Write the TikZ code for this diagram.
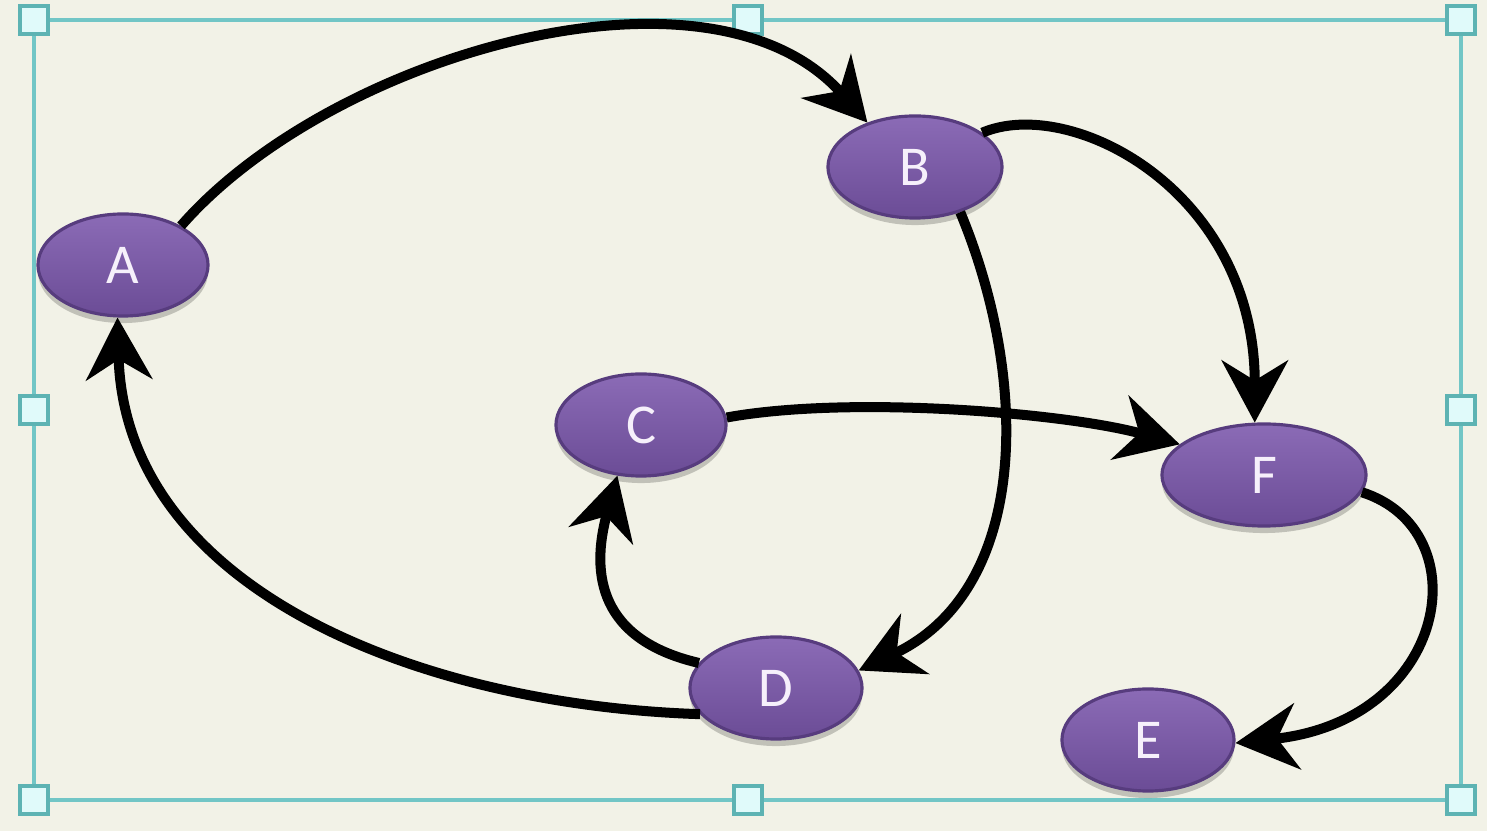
\documentclass[tikz,border=0pt]{standalone}
\usepackage{fontspec}
\setmainfont{Carlito}
\usetikzlibrary{arrows.meta,shapes.geometric,shadows}

\definecolor{paper}{HTML}{F2F2E7}
\definecolor{nodetop}{HTML}{8B6BB6}
\definecolor{nodebot}{HTML}{6B4C96}
\definecolor{nodeedge}{HTML}{573C7E}
\definecolor{labelcol}{HTML}{F6F0FB}
\definecolor{frameline}{HTML}{72C6C6}
\definecolor{handlefill}{HTML}{E0FAFA}
\definecolor{handleedge}{HTML}{5DB3B3}

\tikzset{
  vertex/.style={ellipse, draw=nodeedge, line width=0.9pt,
    top color=nodetop, bottom color=nodebot, inner sep=0pt,
    minimum height=1.02cm, text=labelcol,
    font=\fontsize{16}{19}\selectfont,
    drop shadow={shadow xshift=0pt, shadow yshift=-2pt, opacity=0.2, fill=black}},
  link/.style={line width=0.1cm, draw=black,
    -{Stealth[length=0.62cm, width=0.66cm, inset=0.2cm]}},
  handle/.style={rectangle, draw=handleedge, fill=handlefill, line width=1.4pt,
    minimum size=0.28cm, inner sep=0pt}
}

\begin{document}
\begin{tikzpicture}[x=0.01cm, y=-0.01cm]
  % page
  \fill[paper] (0,0) rectangle (1487,831);
  \useasboundingbox (0,0) rectangle (1487,831);

  % selection frame with its sizing handles
  \draw[frameline, line width=1.3pt] (34,20) rectangle (1461,800);
  \foreach \hx/\hy/\hn in {34/20/h1, 748/20/h2, 1461/20/h3, 34/410/h4,
                            1461/410/h5, 34/800/h6, 748/800/h7, 1461/800/h8}
    \node[handle] (\hn) at (\hx,\hy) {};

  % vertices
  \node[vertex, minimum width=1.70cm] (A) at (123,265) {A};
  \node[vertex, minimum width=1.74cm] (B) at (915,167) {B};
  \node[vertex, minimum width=1.70cm] (C) at (641,425) {C};
  \node[vertex, minimum width=1.72cm] (D) at (776,688) {D};
  \node[vertex, minimum width=2.04cm] (F) at (1264,475) {F};
  \node[vertex, minimum width=1.72cm] (E) at (1148,740) {E};

  % directed edges
  \draw[link] (A.34) .. controls (330,55) and (710,-55) .. (B.137);
  \draw[link] (B.27) .. controls (1070,95) and (1255,190) .. (F.100);
  \draw[link] (B.-45) .. controls (1030,380) and (1030,590) .. (D.12);
  \draw[link] (C.5) .. controls (850,395) and (1067,413) .. (F.160);
  \draw[link] (D.162) .. controls (600,640) and (590,575) .. (C.-115);
  \draw[link] (D.-161) .. controls (420,705) and (125,590) .. (A.-96);
  \draw[link] (F.-10) .. controls (1480,530) and (1450,720) .. (E.-2);
\end{tikzpicture}
\end{document}
